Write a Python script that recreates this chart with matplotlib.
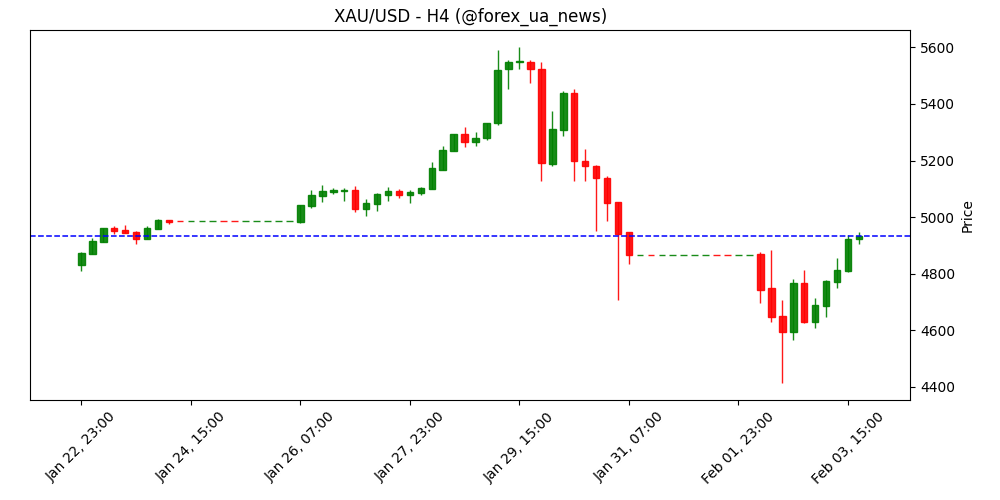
import datetime as dt
import matplotlib
matplotlib.use("Agg")
import matplotlib.pyplot as plt
from matplotlib.ticker import FuncFormatter, MultipleLocator

# XAU/USD H4 candles, starting Jan 22 2026 23:00
start = dt.datetime(2026, 1, 22, 23, 0)

opens = [4832, 4870, 4913, 4961, 4954, 4947, 4923, 4959, 4990, 4985.3,
         4985, 4985, 4985, 4985.3, 4985.3, 4985, 4985, 4985, 4985, 4985,
         4983, 5040, 5075, 5089, 5093, 5095, 5029, 5047, 5079, 5092,
         5079, 5086, 5100, 5168, 5235, 5292, 5264, 5280, 5331, 5523,
         5549, 5549, 5525, 5188, 5308, 5440, 5200, 5182, 5137, 5052,
         4946, 4867, 4867.3, 4867, 4867, 4867, 4867, 4867, 4867.3, 4867.3,
         4867, 4867, 4869, 4749, 4650, 4595, 4767, 4628, 4687, 4771,
         4809, 4921]
highs = [4876, 4926, 4963, 4968, 4972, 4950, 4968, 4992, 4991, 4985.3,
         4985, 4985, 4985, 4985.3, 4985.3, 4985, 4985, 4985, 4985, 4985,
         5044, 5095, 5113, 5103, 5103, 5109, 5063, 5086, 5105, 5101,
         5095, 5107, 5193, 5250, 5295, 5317, 5299, 5333, 5592, 5554,
         5601, 5556, 5548, 5375, 5447, 5454, 5242, 5183, 5145, 5052,
         4946, 4867, 4867.3, 4867, 4867, 4867, 4867, 4867, 4867.3, 4867.3,
         4867, 4867, 4877, 4883, 4709, 4780, 4815, 4713, 4777, 4854,
         4936, 4946]
lows = [4810, 4868, 4911, 4941, 4944, 4904, 4921, 4958, 4974, 4985,
        4985, 4985, 4985, 4985, 4985, 4985, 4985, 4985, 4985, 4985,
        4980, 5031, 5054, 5080, 5057, 5018, 5003, 5020, 5057, 5068,
        5050, 5079, 5098, 5165, 5233, 5248, 5253, 5273, 5327, 5454,
        5525, 5475, 5126, 5182, 5288, 5129, 5129, 4952, 4988, 4709,
        4833, 4867, 4867, 4867, 4867, 4867, 4867, 4867, 4867, 4867,
        4867, 4867, 4695, 4628, 4413, 4566, 4627, 4607, 4648, 4748,
        4805, 4905]
closes = [4874, 4915, 4961, 4952, 4945, 4923, 4960, 4989, 4984, 4985,
          4985, 4985, 4985, 4985, 4985, 4985, 4985, 4985, 4985, 4985,
          5042, 5078, 5092, 5096, 5095, 5029, 5049, 5081, 5092, 5079,
          5088, 5102, 5175, 5236, 5292, 5264, 5281, 5331, 5521, 5549,
          5550, 5523, 5190, 5313, 5440, 5199, 5181, 5137, 5050, 4942,
          4867, 4867, 4867, 4867, 4867, 4867, 4867, 4867, 4867, 4867,
          4867, 4867, 4743, 4648, 4595, 4767, 4628, 4689, 4774, 4813,
          4922, 4935]

dates = [start + dt.timedelta(hours=4 * i) for i in range(len(opens))]
x = list(range(len(opens)))
colors = ['green' if c >= o else 'red' for o, c in zip(opens, closes)]

fig, ax = plt.subplots(figsize=(10, 5), dpi=100)

ax.vlines(x, lows, highs, color=colors, linewidth=1, alpha=0.9)
ax.bar(x, [c - o for o, c in zip(opens, closes)], bottom=opens, width=0.6,
       color=colors, edgecolor=colors, linewidth=1, alpha=0.9)
ax.axhline(closes[-1], color='blue', linestyle='--', linewidth=1.1)


def fmt(v, pos):
    i = int(round(v))
    if 0 <= i < len(dates):
        return dates[i].strftime('%b %d, %H:%M')
    return ''


ax.xaxis.set_major_locator(MultipleLocator(10))
ax.xaxis.set_major_formatter(FuncFormatter(fmt))
plt.setp(ax.get_xticklabels(), rotation=45)
ax.set_xlim(-4.66, 75.69)
ax.set_ylim(4354, 5660)

ax.yaxis.tick_right()
ax.yaxis.set_label_position('right')
ax.set_ylabel('Price')
ax.set_title('XAU/USD - H4 (@forex_ua_news)')

plt.subplots_adjust(left=0.0303, right=0.9103, top=0.9394, bottom=0.2)
plt.savefig('out.png')
